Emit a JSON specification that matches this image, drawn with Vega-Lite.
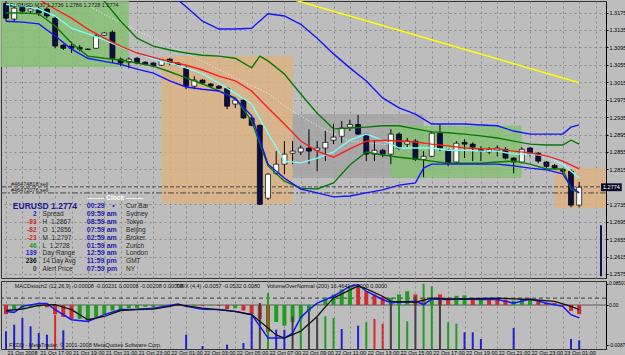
{
"$schema":"https://vega.github.io/schema/vega-lite/v6.json",
"padding":0,
"background":"#bdbdbd",
"spacing":1,
"config":{"view":{"stroke":"#333333","strokeWidth":1},"font":"Liberation Sans"},
"datasets":{
"cd":[
{"t":"2008-10-21T15:00Z","o":1.3196,"h":1.3201,"l":1.3155,"c":1.3162},
{"t":"2008-10-21T15:30Z","o":1.3160,"h":1.3190,"l":1.3155,"c":1.3185},
{"t":"2008-10-21T16:00Z","o":1.3190,"h":1.3196,"l":1.3174,"c":1.3178},
{"t":"2008-10-21T16:30Z","o":1.3178,"h":1.3190,"l":1.3174,"c":1.3183},
{"t":"2008-10-21T17:00Z","o":1.3183,"h":1.3188,"l":1.3167,"c":1.3174},
{"t":"2008-10-21T17:30Z","o":1.3183,"h":1.3187,"l":1.3162,"c":1.3167},
{"t":"2008-10-21T18:00Z","o":1.3162,"h":1.3167,"l":1.3093,"c":1.3098},
{"t":"2008-10-21T18:30Z","o":1.3100,"h":1.3102,"l":1.3089,"c":1.3093},
{"t":"2008-10-21T19:00Z","o":1.3098,"h":1.3108,"l":1.3082,"c":1.3093},
{"t":"2008-10-21T19:30Z","o":1.3095,"h":1.3100,"l":1.3086,"c":1.3091},
{"t":"2008-10-21T20:00Z","o":1.3091,"h":1.3093,"l":1.3089,"c":1.3090},
{"t":"2008-10-21T20:30Z","o":1.3093,"h":1.3125,"l":1.3091,"c":1.3121},
{"t":"2008-10-21T21:00Z","o":1.3123,"h":1.3130,"l":1.3121,"c":1.3128},
{"t":"2008-10-21T21:30Z","o":1.3130,"h":1.3134,"l":1.3059,"c":1.3070},
{"t":"2008-10-21T22:00Z","o":1.3068,"h":1.3072,"l":1.3052,"c":1.3059},
{"t":"2008-10-21T22:30Z","o":1.3061,"h":1.3072,"l":1.3047,"c":1.3068},
{"t":"2008-10-21T23:00Z","o":1.3070,"h":1.3072,"l":1.3056,"c":1.3059},
{"t":"2008-10-21T23:30Z","o":1.3061,"h":1.3063,"l":1.3054,"c":1.3056},
{"t":"2008-10-22T00:00Z","o":1.3059,"h":1.3061,"l":1.3050,"c":1.3052},
{"t":"2008-10-22T00:30Z","o":1.3054,"h":1.3068,"l":1.3052,"c":1.3066},
{"t":"2008-10-22T01:00Z","o":1.3068,"h":1.3070,"l":1.3054,"c":1.3059},
{"t":"2008-10-22T01:30Z","o":1.3059,"h":1.3061,"l":1.3052,"c":1.3054},
{"t":"2008-10-22T02:00Z","o":1.3047,"h":1.3052,"l":1.2999,"c":1.3006},
{"t":"2008-10-22T02:30Z","o":1.3006,"h":1.3029,"l":1.2999,"c":1.3020},
{"t":"2008-10-22T03:00Z","o":1.3020,"h":1.3022,"l":1.3011,"c":1.3013},
{"t":"2008-10-22T03:30Z","o":1.3011,"h":1.3013,"l":1.3004,"c":1.3006},
{"t":"2008-10-22T04:00Z","o":1.3006,"h":1.3008,"l":1.2999,"c":1.3001},
{"t":"2008-10-22T04:30Z","o":1.3001,"h":1.3004,"l":1.2953,"c":1.2960},
{"t":"2008-10-22T05:00Z","o":1.2965,"h":1.2978,"l":1.2956,"c":1.2974},
{"t":"2008-10-22T05:30Z","o":1.2974,"h":1.2976,"l":1.2931,"c":1.2933},
{"t":"2008-10-22T06:00Z","o":1.2933,"h":1.2935,"l":1.2914,"c":1.2916},
{"t":"2008-10-22T06:30Z","o":1.2916,"h":1.2918,"l":1.2733,"c":1.2735},
{"t":"2008-10-22T07:00Z","o":1.2749,"h":1.2806,"l":1.2745,"c":1.2804},
{"t":"2008-10-22T07:30Z","o":1.2806,"h":1.2857,"l":1.2802,"c":1.2827},
{"t":"2008-10-22T08:00Z","o":1.2827,"h":1.2880,"l":1.2804,"c":1.2850},
{"t":"2008-10-22T08:30Z","o":1.2852,"h":1.2880,"l":1.2827,"c":1.2857},
{"t":"2008-10-22T09:00Z","o":1.2855,"h":1.2870,"l":1.2848,"c":1.2864},
{"t":"2008-10-22T09:30Z","o":1.2864,"h":1.2907,"l":1.2827,"c":1.2857},
{"t":"2008-10-22T10:00Z","o":1.2859,"h":1.2880,"l":1.2811,"c":1.2864},
{"t":"2008-10-22T10:30Z","o":1.2864,"h":1.2903,"l":1.2834,"c":1.2877},
{"t":"2008-10-22T11:00Z","o":1.2882,"h":1.2920,"l":1.2873,"c":1.2889},
{"t":"2008-10-22T11:30Z","o":1.2891,"h":1.2926,"l":1.2875,"c":1.2910},
{"t":"2008-10-22T12:00Z","o":1.2912,"h":1.2929,"l":1.2903,"c":1.2918},
{"t":"2008-10-22T12:30Z","o":1.2918,"h":1.2940,"l":1.2894,"c":1.2896},
{"t":"2008-10-22T13:00Z","o":1.2896,"h":1.2898,"l":1.2834,"c":1.2850},
{"t":"2008-10-22T13:30Z","o":1.2850,"h":1.2880,"l":1.2834,"c":1.2859},
{"t":"2008-10-22T14:00Z","o":1.2859,"h":1.2862,"l":1.2843,"c":1.2850},
{"t":"2008-10-22T14:30Z","o":1.2850,"h":1.2907,"l":1.2827,"c":1.2896},
{"t":"2008-10-22T15:00Z","o":1.2896,"h":1.2900,"l":1.2860,"c":1.2864},
{"t":"2008-10-22T15:30Z","o":1.2873,"h":1.2887,"l":1.2866,"c":1.2880},
{"t":"2008-10-22T16:00Z","o":1.2880,"h":1.2884,"l":1.2834,"c":1.2838},
{"t":"2008-10-22T16:30Z","o":1.2838,"h":1.2857,"l":1.2797,"c":1.2845},
{"t":"2008-10-22T17:00Z","o":1.2845,"h":1.2903,"l":1.2843,"c":1.2898},
{"t":"2008-10-22T17:30Z","o":1.2898,"h":1.2918,"l":1.2857,"c":1.2864},
{"t":"2008-10-22T18:00Z","o":1.2859,"h":1.2862,"l":1.2822,"c":1.2829},
{"t":"2008-10-22T18:30Z","o":1.2832,"h":1.2880,"l":1.2829,"c":1.2875},
{"t":"2008-10-22T19:00Z","o":1.2877,"h":1.2884,"l":1.2841,"c":1.2873},
{"t":"2008-10-22T19:30Z","o":1.2873,"h":1.2877,"l":1.2834,"c":1.2866},
{"t":"2008-10-22T20:00Z","o":1.2861,"h":1.2868,"l":1.2834,"c":1.2857},
{"t":"2008-10-22T20:30Z","o":1.2855,"h":1.2866,"l":1.2850,"c":1.2861},
{"t":"2008-10-22T21:00Z","o":1.2859,"h":1.2870,"l":1.2845,"c":1.2864},
{"t":"2008-10-22T21:30Z","o":1.2861,"h":1.2866,"l":1.2838,"c":1.2841},
{"t":"2008-10-22T22:00Z","o":1.2841,"h":1.2843,"l":1.2806,"c":1.2832},
{"t":"2008-10-22T22:30Z","o":1.2832,"h":1.2866,"l":1.2829,"c":1.2861},
{"t":"2008-10-22T23:00Z","o":1.2864,"h":1.2866,"l":1.2845,"c":1.2850},
{"t":"2008-10-22T23:30Z","o":1.2852,"h":1.2855,"l":1.2829,"c":1.2834},
{"t":"2008-10-23T00:00Z","o":1.2832,"h":1.2834,"l":1.2818,"c":1.2822},
{"t":"2008-10-23T00:30Z","o":1.2824,"h":1.2827,"l":1.2815,"c":1.2818},
{"t":"2008-10-23T01:00Z","o":1.2815,"h":1.2818,"l":1.2806,"c":1.2811},
{"t":"2008-10-23T01:30Z","o":1.2811,"h":1.2815,"l":1.2728,"c":1.2733},
{"t":"2008-10-23T02:00Z","o":1.2733,"h":1.2786,"l":1.2728,"c":1.2774}
],
"ln":[
{"t":"2008-10-21T15:00Z","c":1.3194,"gl":1.3174,"bl":1.3155},
{"t":"2008-10-21T16:00Z","c":1.3190,"gl":1.3174,"bl":1.3153},
{"t":"2008-10-21T17:00Z","r":1.3205,"c":1.3183,"gl":1.3172,"bl":1.3149},
{"t":"2008-10-21T18:00Z","r":1.3183,"c":1.3167,"gl":1.3144,"bl":1.3121},
{"t":"2008-10-21T19:00Z","r":1.3162,"c":1.3139,"gl":1.3105,"bl":1.3091},
{"t":"2008-10-21T20:00Z","r":1.3137,"c":1.3126,"gu":1.3225,"gl":1.3075,"bl":1.3070},
{"t":"2008-10-21T21:00Z","r":1.3116,"c":1.3112,"gu":1.3201,"gl":1.3070,"bl":1.3063},
{"t":"2008-10-21T22:00Z","r":1.3098,"c":1.3096,"gu":1.3155,"gl":1.3066,"bl":1.3056},
{"t":"2008-10-21T23:00Z","r":1.3082,"c":1.3082,"gu":1.3116,"gl":1.3059,"bl":1.3045},
{"t":"2008-10-22T00:00Z","r":1.3072,"c":1.3068,"gu":1.3098,"gl":1.3052,"bl":1.3036},
{"t":"2008-10-22T01:00Z","r":1.3063,"c":1.3059,"gu":1.3089,"gl":1.3039,"bu":1.3220,"bl":1.3018},
{"t":"2008-10-22T02:00Z","r":1.3054,"c":1.3048,"gu":1.3082,"gl":1.3025,"bu":1.3188,"bl":1.3004},
{"t":"2008-10-22T03:00Z","r":1.3043,"c":1.3034,"gu":1.3077,"gl":1.3011,"bu":1.3155,"bl":1.2999},
{"t":"2008-10-22T04:00Z","r":1.3029,"c":1.3013,"gu":1.3075,"gl":1.2995,"bu":1.3137,"bl":1.2995},
{"t":"2008-10-22T05:00Z","r":1.3018,"c":1.2990,"gu":1.3070,"gl":1.2979,"bu":1.3137,"bl":1.2977},
{"t":"2008-10-22T06:00Z","r":1.2995,"c":1.2965,"gu":1.3048,"gl":1.2926,"bu":1.3139,"bl":1.2938},
{"t":"2008-10-22T06:30Z","gu":1.3075},
{"t":"2008-10-22T07:00Z","r":1.2956,"c":1.2898,"gu":1.3064,"gl":1.2823,"bu":1.3172,"bl":1.2827},
{"t":"2008-10-22T08:00Z","r":1.2919,"c":1.2834,"gu":1.3034,"gl":1.2788,"bu":1.3167,"bl":1.2795},
{"t":"2008-10-22T09:00Z","r":1.2880,"c":1.2830,"gu":1.2988,"gl":1.2772,"bu":1.3148,"bl":1.2770},
{"t":"2008-10-22T10:00Z","r":1.2857,"c":1.2841,"gu":1.2944,"gl":1.2770,"bu":1.3116,"bl":1.2761},
{"t":"2008-10-22T11:00Z","r":1.2843,"c":1.2855,"gu":1.2908,"gl":1.2784,"bu":1.3080,"bl":1.2752},
{"t":"2008-10-22T12:00Z","r":1.2862,"c":1.2882,"gu":1.2910,"gl":1.2825,"bu":1.3048,"bl":1.2754},
{"t":"2008-10-22T13:00Z","r":1.2880,"c":1.2896,"gu":1.2912,"gl":1.2855,"bu":1.3018,"bl":1.2761},
{"t":"2008-10-22T14:00Z","r":1.2882,"c":1.2882,"gu":1.2915,"gl":1.2848,"bu":1.2979,"bl":1.2768},
{"t":"2008-10-22T15:00Z","r":1.2880,"c":1.2864,"gu":1.2915,"gl":1.2843,"bu":1.2956,"bl":1.2779},
{"t":"2008-10-22T16:00Z","r":1.2878,"c":1.2864,"gu":1.2908,"gl":1.2839,"bu":1.2942,"bl":1.2784},
{"t":"2008-10-22T16:30Z","bl":1.2818},
{"t":"2008-10-22T17:00Z","r":1.2873,"c":1.2864,"gu":1.2901,"gl":1.2834,"bu":1.2919,"bl":1.2827},
{"t":"2008-10-22T18:00Z","r":1.2869,"c":1.2859,"gu":1.2899,"gl":1.2829,"bu":1.2919,"bl":1.2827},
{"t":"2008-10-22T19:00Z","r":1.2864,"c":1.2859,"gu":1.2896,"gl":1.2829,"bu":1.2919,"bl":1.2827},
{"t":"2008-10-22T20:00Z","r":1.2862,"c":1.2857,"gu":1.2892,"gl":1.2829,"bu":1.2917,"bl":1.2827},
{"t":"2008-10-22T21:00Z","r":1.2862,"c":1.2857,"gu":1.2887,"gl":1.2832,"bu":1.2915,"bl":1.2827},
{"t":"2008-10-22T22:00Z","r":1.2857,"c":1.2850,"gu":1.2880,"gl":1.2834,"bu":1.2903,"bl":1.2823},
{"t":"2008-10-22T23:00Z","r":1.2853,"c":1.2850,"gu":1.2873,"gl":1.2827,"bu":1.2896,"bl":1.2818},
{"t":"2008-10-23T00:00Z","r":1.2846,"c":1.2846,"gu":1.2871,"gl":1.2816,"bu":1.2896,"bl":1.2814},
{"t":"2008-10-23T01:00Z","r":1.2834,"c":1.2827,"gu":1.2871,"gl":1.2816,"bu":1.2896,"bl":1.2805},
{"t":"2008-10-23T01:30Z","gu":1.2882,"gl":1.2770,"bu":1.2912,"bl":1.2775},
{"t":"2008-10-23T02:00Z","r":1.2816,"c":1.2795,"gu":1.2873,"gl":1.2761,"bu":1.2917,"bl":1.2761}
],
"wl":[
{"t":"2008-10-21T20:00Z","p":1.3190},{"t":"2008-10-21T23:00Z","p":1.3133},{"t":"2008-10-22T02:00Z","p":1.3082},{"t":"2008-10-22T05:00Z","p":1.3025},{"t":"2008-10-22T07:00Z","p":1.2990},{"t":"2008-10-22T08:00Z","p":1.2960},{"t":"2008-10-22T09:00Z","p":1.2938},{"t":"2008-10-22T10:00Z","p":1.2915},{"t":"2008-10-22T12:00Z","p":1.2880},{"t":"2008-10-22T15:00Z","p":1.2869},{"t":"2008-10-22T18:00Z","p":1.2864},{"t":"2008-10-22T21:00Z","p":1.2859},{"t":"2008-10-23T00:00Z","p":1.2841},{"t":"2008-10-23T02:00Z","p":1.2811}
],
"yl":[{"t":"2008-10-22T08:30Z","p":1.3205},{"t":"2008-10-23T02:00Z","p":1.3014}],
"bx":[
{"t":"2008-10-21T14:00Z","t2":"2008-10-21T22:30Z","p":1.3210,"p2":1.3050,"k":"g"},
{"t":"2008-10-22T00:30Z","t2":"2008-10-22T08:30Z","p":1.3075,"p2":1.2736,"k":"t"},
{"t":"2008-10-22T08:30Z","t2":"2008-10-22T16:30Z","p":1.2942,"p2":1.2795,"k":"s"},
{"t":"2008-10-22T14:30Z","t2":"2008-10-22T22:30Z","p":1.2915,"p2":1.2795,"k":"g"},
{"t":"2008-10-23T00:30Z","t2":"2008-10-23T04:00Z","p":1.2818,"p2":1.2726,"k":"t"}
],
"hl":[{"t":"2008-10-23T03:20Z","t2":"2008-10-23T04:36Z","p":1.2783,"p2":1.2765,"s":"1.2774","pm":1.2774}],
"ax":[{"t":"2008-10-23T03:20Z","p":1.2687,"p2":1.2570}],
"nm":[
{"t":"2008-10-21T16:52Z","p":1.2712,"s":"2","k":"b"},
{"t":"2008-10-21T16:52Z","p":1.2694,"s":"-93","k":"r"},
{"t":"2008-10-21T16:52Z","p":1.2676,"s":"-82","k":"r"},
{"t":"2008-10-21T16:52Z","p":1.2658,"s":"-23","k":"r"},
{"t":"2008-10-21T16:52Z","p":1.2640,"s":"46","k":"g"},
{"t":"2008-10-21T16:52Z","p":1.2623,"s":"139","k":"b"},
{"t":"2008-10-21T16:52Z","p":1.2605,"s":"236","k":"k"},
{"t":"2008-10-21T16:52Z","p":1.2587,"s":"0","k":"y"}
],
"lb":[
{"t":"2008-10-21T17:14Z","p":1.2712,"s":"Spread"},
{"t":"2008-10-21T17:14Z","p":1.2694,"s":"H\u00a0\u00a01.2867"},
{"t":"2008-10-21T17:14Z","p":1.2676,"s":"O\u00a0\u00a01.2856"},
{"t":"2008-10-21T17:14Z","p":1.2658,"s":"M\u00a0\u00a01.2797"},
{"t":"2008-10-21T17:14Z","p":1.2640,"s":"L\u00a0\u00a01.2728"},
{"t":"2008-10-21T17:14Z","p":1.2623,"s":"Day Range"},
{"t":"2008-10-21T17:14Z","p":1.2605,"s":"14 Day Avg"},
{"t":"2008-10-21T17:14Z","p":1.2587,"s":"Alert Price"}
],
"tm":[
{"t":"2008-10-21T19:56Z","p":1.2730,"s":"00:29"},
{"t":"2008-10-21T21:29Z","p":1.2730,"s":"\u2022"},
{"t":"2008-10-21T19:56Z","p":1.2712,"s":"09:59 am"},
{"t":"2008-10-21T19:56Z","p":1.2694,"s":"08:59 am"},
{"t":"2008-10-21T19:56Z","p":1.2676,"s":"07:59 am"},
{"t":"2008-10-21T19:56Z","p":1.2658,"s":"02:59 am"},
{"t":"2008-10-21T19:56Z","p":1.2640,"s":"01:59 am"},
{"t":"2008-10-21T19:56Z","p":1.2623,"s":"12:59 am"},
{"t":"2008-10-21T19:56Z","p":1.2605,"s":"11:59 pm"},
{"t":"2008-10-21T19:56Z","p":1.2587,"s":"07:59 pm"}
],
"pl":[
{"t":"2008-10-21T22:20Z","p":1.2730,"s":"Cur Bar"},
{"t":"2008-10-21T22:20Z","p":1.2712,"s":"Sydney"},
{"t":"2008-10-21T22:20Z","p":1.2694,"s":"Tokyo"},
{"t":"2008-10-21T22:20Z","p":1.2676,"s":"Beijing"},
{"t":"2008-10-21T22:20Z","p":1.2658,"s":"Broker"},
{"t":"2008-10-21T22:20Z","p":1.2640,"s":"Zurich"},
{"t":"2008-10-21T22:20Z","p":1.2623,"s":"London"},
{"t":"2008-10-21T22:20Z","p":1.2605,"s":"GMT"},
{"t":"2008-10-21T22:20Z","p":1.2587,"s":"NY"}
],
"hi":[
{"t":"2008-10-21T15:00Z","v":-0.0020,"d":"r"},{"t":"2008-10-21T15:30Z","v":-0.0010,"d":"g"},{"t":"2008-10-21T16:00Z","v":-0.0009,"d":"g"},{"t":"2008-10-21T16:30Z","v":-0.0004,"d":"g"},{"t":"2008-10-21T17:00Z","v":-0.0004,"d":"g"},{"t":"2008-10-21T17:30Z","v":-0.0005,"d":"r"},{"t":"2008-10-21T18:00Z","v":-0.0020,"d":"r"},{"t":"2008-10-21T18:30Z","v":-0.0026,"d":"r"},{"t":"2008-10-21T19:00Z","v":-0.0030,"d":"r"},{"t":"2008-10-21T19:30Z","v":-0.0030,"d":"g"},{"t":"2008-10-21T20:00Z","v":-0.0034,"d":"g"},{"t":"2008-10-21T20:30Z","v":-0.0026,"d":"g"},{"t":"2008-10-21T21:00Z","v":-0.0020,"d":"g"},{"t":"2008-10-21T21:30Z","v":-0.0012,"d":"g"},{"t":"2008-10-21T22:00Z","v":-0.0010,"d":"g"},{"t":"2008-10-21T22:30Z","v":-0.0007,"d":"g"},{"t":"2008-10-21T23:00Z","v":-0.0007,"d":"g"},{"t":"2008-10-21T23:30Z","v":-0.0004,"d":"g"},
{"t":"2008-10-22T00:00Z","v":-0.0005,"d":"g"},{"t":"2008-10-22T00:30Z","v":-0.0003,"d":"g"},{"t":"2008-10-22T01:00Z","v":-0.0002,"d":"g"},{"t":"2008-10-22T01:30Z","v":-0.0002,"d":"r"},{"t":"2008-10-22T02:00Z","v":-0.0003,"d":"r"},{"t":"2008-10-22T02:30Z","v":-0.0002,"d":"g"},{"t":"2008-10-22T03:00Z","v":-0.0002,"d":"r"},{"t":"2008-10-22T03:30Z","v":-0.0001,"d":"g"},{"t":"2008-10-22T04:00Z","v":-0.0002,"d":"r"},{"t":"2008-10-22T04:30Z","v":-0.0009,"d":"r"},{"t":"2008-10-22T05:00Z","v":-0.0007,"d":"g"},{"t":"2008-10-22T05:30Z","v":-0.0012,"d":"r"},{"t":"2008-10-22T06:00Z","v":-0.0020,"d":"r"},{"t":"2008-10-22T06:30Z","v":-0.0030,"d":"r"},{"t":"2008-10-22T07:00Z","v":-0.0059,"d":"r"},{"t":"2008-10-22T07:30Z","v":-0.0037,"d":"g"},{"t":"2008-10-22T08:00Z","v":-0.0045,"d":"g"},{"t":"2008-10-22T08:30Z","v":-0.0037,"d":"g"},{"t":"2008-10-22T09:00Z","v":-0.0030,"d":"g"},{"t":"2008-10-22T09:30Z","v":-0.0014,"d":"g"},{"t":"2008-10-22T10:00Z","v":0.0002,"d":"g"},{"t":"2008-10-22T10:30Z","v":0.0016,"d":"g"},{"t":"2008-10-22T11:00Z","v":0.0023,"d":"g"},{"t":"2008-10-22T11:30Z","v":0.0034,"d":"g"},{"t":"2008-10-22T12:00Z","v":0.0041,"d":"g"},{"t":"2008-10-22T12:30Z","v":0.0038,"d":"r"},{"t":"2008-10-22T13:00Z","v":0.0030,"d":"r"},{"t":"2008-10-22T13:30Z","v":0.0023,"d":"r"},{"t":"2008-10-22T14:00Z","v":0.0018,"d":"r"},{"t":"2008-10-22T14:30Z","v":0.0016,"d":"g"},{"t":"2008-10-22T15:00Z","v":0.0023,"d":"g"},{"t":"2008-10-22T15:30Z","v":0.0030,"d":"g"},{"t":"2008-10-22T16:00Z","v":0.0023,"d":"r"},{"t":"2008-10-22T16:30Z","v":0.0016,"d":"r"},{"t":"2008-10-22T17:00Z","v":0.0012,"d":"g"},{"t":"2008-10-22T17:30Z","v":0.0023,"d":"r"},{"t":"2008-10-22T18:00Z","v":0.0016,"d":"r"},{"t":"2008-10-22T18:30Z","v":0.0020,"d":"g"},{"t":"2008-10-22T19:00Z","v":0.0021,"d":"g"},{"t":"2008-10-22T19:30Z","v":0.0016,"d":"r"},{"t":"2008-10-22T20:00Z","v":0.0012,"d":"g"},{"t":"2008-10-22T20:30Z","v":0.0012,"d":"r"},{"t":"2008-10-22T21:00Z","v":0.0012,"d":"r"},{"t":"2008-10-22T21:30Z","v":0.0012,"d":"r"},{"t":"2008-10-22T22:00Z","v":0.0009,"d":"g"},{"t":"2008-10-22T22:30Z","v":0.0012,"d":"g"},{"t":"2008-10-22T23:00Z","v":0.0011,"d":"g"},{"t":"2008-10-22T23:30Z","v":0.0007,"d":"r"},
{"t":"2008-10-23T00:00Z","v":0.0005,"d":"r"},{"t":"2008-10-23T00:30Z","v":0.0005,"d":"r"},{"t":"2008-10-23T01:00Z","v":-0.0002,"d":"r"},{"t":"2008-10-23T01:30Z","v":-0.0013,"d":"r"},{"t":"2008-10-23T02:00Z","v":-0.0020,"d":"r"}
],
"vo":[
{"t":"2008-10-21T15:00Z","vol":885,"k":"b"},{"t":"2008-10-21T15:30Z","vol":1215,"k":"l"},{"t":"2008-10-21T16:00Z","vol":1550,"k":"l"},{"t":"2008-10-21T16:30Z","vol":1135,"k":"b"},{"t":"2008-10-21T17:00Z","vol":800,"k":"b"},{"t":"2008-10-21T17:30Z","vol":715,"k":"b"},{"t":"2008-10-21T18:00Z","vol":1715,"k":"c"},{"t":"2008-10-21T18:30Z","vol":935,"k":"b"},
{"t":"2008-10-22T02:00Z","vol":715,"k":"b"},{"t":"2008-10-22T03:00Z","vol":150,"k":"b"},{"t":"2008-10-22T04:30Z","vol":215,"k":"b"},{"t":"2008-10-22T05:30Z","vol":300,"k":"b"},{"t":"2008-10-22T06:00Z","vol":1635,"k":"l"},{"t":"2008-10-22T06:30Z","vol":2300,"k":"y"},{"t":"2008-10-22T07:00Z","vol":2800,"k":"w"},{"t":"2008-10-22T07:30Z","vol":965,"k":"b"},{"t":"2008-10-22T08:00Z","vol":965,"k":"b"},{"t":"2008-10-22T08:30Z","vol":1635,"k":"y"},{"t":"2008-10-22T09:00Z","vol":1500,"k":"g"},{"t":"2008-10-22T09:30Z","vol":1885,"k":"y"},{"t":"2008-10-22T10:00Z","vol":1550,"k":"y"},{"t":"2008-10-22T10:30Z","vol":1635,"k":"g"},{"t":"2008-10-22T11:00Z","vol":1550,"k":"g"},{"t":"2008-10-22T11:30Z","vol":1000,"k":"b"},{"t":"2008-10-22T12:30Z","vol":1165,"k":"b"},{"t":"2008-10-22T13:00Z","vol":1335,"k":"g"},{"t":"2008-10-22T13:30Z","vol":1500,"k":"c"},{"t":"2008-10-22T14:00Z","vol":1265,"k":"c"},{"t":"2008-10-22T14:30Z","vol":2265,"k":"y"},{"t":"2008-10-22T15:00Z","vol":2335,"k":"w"},{"t":"2008-10-22T15:30Z","vol":1385,"k":"g"},{"t":"2008-10-22T16:00Z","vol":2635,"k":"y"},{"t":"2008-10-22T16:30Z","vol":3265,"k":"w"},{"t":"2008-10-22T17:00Z","vol":3135,"k":"w"},{"t":"2008-10-22T17:30Z","vol":2550,"k":"y"},{"t":"2008-10-22T18:00Z","vol":1335,"k":"g"},{"t":"2008-10-22T18:30Z","vol":1265,"k":"g"},{"t":"2008-10-22T19:00Z","vol":835,"k":"b"},{"t":"2008-10-22T19:30Z","vol":835,"k":"b"},{"t":"2008-10-22T20:00Z","vol":500,"k":"b"},{"t":"2008-10-22T22:00Z","vol":1050,"k":"b"},{"t":"2008-10-23T01:30Z","vol":500,"k":"b"},{"t":"2008-10-23T02:00Z","vol":435,"k":"b"}
],
"mb":[
{"t":"2008-10-21T15:00Z","m":-0.0014},{"t":"2008-10-21T15:30Z","m":-0.0016},{"t":"2008-10-21T16:00Z","m":-0.0003},{"t":"2008-10-21T17:00Z","m":0.0003},{"t":"2008-10-21T17:30Z","m":0.0003},{"t":"2008-10-21T18:00Z","m":-0.0010},{"t":"2008-10-21T19:00Z","m":-0.0032},{"t":"2008-10-21T20:00Z","m":-0.0036},{"t":"2008-10-21T21:00Z","m":-0.0021},{"t":"2008-10-21T22:00Z","m":-0.0010},{"t":"2008-10-21T23:00Z","m":-0.0009},{"t":"2008-10-22T00:00Z","m":-0.0007},{"t":"2008-10-22T01:00Z","m":-0.0001},{"t":"2008-10-22T01:30Z","m":0.0002},{"t":"2008-10-22T02:00Z","m":-0.0003},{"t":"2008-10-22T03:00Z","m":-0.0009},{"t":"2008-10-22T04:00Z","m":-0.0010},{"t":"2008-10-22T05:00Z","m":-0.0014},{"t":"2008-10-22T06:00Z","m":-0.0021},{"t":"2008-10-22T06:30Z","m":-0.0046},{"t":"2008-10-22T07:00Z","m":-0.0072},{"t":"2008-10-22T08:00Z","m":-0.0072},{"t":"2008-10-22T08:30Z","m":-0.0061},{"t":"2008-10-22T09:00Z","m":-0.0027},{"t":"2008-10-22T09:30Z","m":-0.0010},{"t":"2008-10-22T10:00Z","m":0.0004},{"t":"2008-10-22T11:00Z","m":0.0019},{"t":"2008-10-22T12:00Z","m":0.0041},{"t":"2008-10-22T12:30Z","m":0.0044},{"t":"2008-10-22T13:00Z","m":0.0030},{"t":"2008-10-22T14:00Z","m":0.0012},{"t":"2008-10-22T14:30Z","m":0.0005},{"t":"2008-10-22T15:00Z","m":0.0006},{"t":"2008-10-22T16:00Z","m":0.0008},{"t":"2008-10-22T16:30Z","m":0.0001},{"t":"2008-10-22T17:00Z","m":0.0013},{"t":"2008-10-22T18:00Z","m":0.0012},{"t":"2008-10-22T19:00Z","m":0.0013},{"t":"2008-10-22T20:00Z","m":0.0012},{"t":"2008-10-22T21:00Z","m":0.0012},{"t":"2008-10-22T22:00Z","m":0.0004},{"t":"2008-10-22T23:00Z","m":0.0013},{"t":"2008-10-23T00:00Z","m":0.0004},{"t":"2008-10-23T01:00Z","m":-0.0003},{"t":"2008-10-23T01:30Z","m":-0.0021},{"t":"2008-10-23T02:00Z","m":-0.0028}
],
"ms":[
{"t":"2008-10-21T15:00Z","m":-0.0012},{"t":"2008-10-21T16:00Z","m":-0.0009},{"t":"2008-10-21T17:00Z","m":-0.0001},{"t":"2008-10-21T18:00Z","m":0.0001},{"t":"2008-10-21T19:00Z","m":-0.0010},{"t":"2008-10-21T20:00Z","m":-0.0032},{"t":"2008-10-21T21:00Z","m":-0.0025},{"t":"2008-10-21T22:00Z","m":-0.0012},{"t":"2008-10-21T23:00Z","m":-0.0010},{"t":"2008-10-22T00:00Z","m":-0.0009},{"t":"2008-10-22T01:00Z","m":-0.0003},{"t":"2008-10-22T01:30Z","m":0.0001},{"t":"2008-10-22T03:00Z","m":-0.0007},{"t":"2008-10-22T05:00Z","m":-0.0014},{"t":"2008-10-22T06:00Z","m":-0.0021},{"t":"2008-10-22T07:00Z","m":-0.0050},{"t":"2008-10-22T07:30Z","m":-0.0065},{"t":"2008-10-22T08:00Z","m":-0.0072},{"t":"2008-10-22T09:00Z","m":-0.0057},{"t":"2008-10-22T10:00Z","m":-0.0025},{"t":"2008-10-22T10:30Z","m":-0.0004},{"t":"2008-10-22T11:00Z","m":0.0015},{"t":"2008-10-22T12:00Z","m":0.0033},{"t":"2008-10-22T12:30Z","m":0.0041},{"t":"2008-10-22T13:00Z","m":0.0035},{"t":"2008-10-22T14:00Z","m":0.0019},{"t":"2008-10-22T14:30Z","m":0.0008},{"t":"2008-10-22T16:00Z","m":0.0006},{"t":"2008-10-22T17:00Z","m":0.0015},{"t":"2008-10-22T18:00Z","m":0.0013},{"t":"2008-10-22T19:00Z","m":0.0013},{"t":"2008-10-22T21:00Z","m":0.0015},{"t":"2008-10-22T23:00Z","m":0.0012},{"t":"2008-10-23T00:30Z","m":0.0008},{"t":"2008-10-23T01:30Z","m":-0.0003},{"t":"2008-10-23T02:00Z","m":-0.0010}
],
"mt":[
{"t":"2008-10-21T15:32Z","v":0.0042,"s":"MACDstoch2  (12,26,9)  -0.00008 -0.00231 0.00008 -0.00208 0.00008"},
{"t":"2008-10-22T01:23Z","v":0.0042,"s":"TRIX  (4,4)  -0.0057 -0.0532 0.0080"},
{"t":"2008-10-22T06:55Z","v":0.0042,"s":"VolumeOverNormal  (200)  16.4641  0.0000  0.0000"},
{"t":"2008-10-21T15:11Z","v":-0.0086,"s":"FXDD - MetaTrader, \u00a9 2001-2008 MetaQuotes Software Corp."}
],
"tx":[
{"t":"2008-10-21T15:14Z","p":1.3192,"s":"EURUSD,M30  1.2736 1.2786 1.2728 1.2774"},
{"t":"2008-10-21T15:18Z","p":1.2782,"s":"#46474818 sell"},
{"t":"2008-10-21T15:18Z","p":1.2768,"s":"#46472076 sell"}
],
"ck":[{"t":"2008-10-21T21:40Z","p":1.2749,"s":"-------- Clock --------"}],
"ti":[{"t":"2008-10-21T15:25Z","p":1.2730,"s":"EURUSD  1.2774"}],
"ol":[{"p":1.2775}],
"od":[{"p":1.2761}],
"lv":[{"v":0.0015}],
"zr":[{"v":0}]
},
"vconcat":[
{
"width":605,"height":277,
"encoding":{
 "x":{"field":"t","type":"temporal","title":null,"scale":{"type":"utc","domain":["2008-10-21T15:00Z","2008-10-23T03:20Z"]},
  "axis":{"title":null,"orient":"bottom","labels":false,"ticks":false,"domain":false,"grid":true,"gridColor":"#8a8a8a","gridDash":[2,3],"tickCount":36}},
 "y":{"field":"p","type":"quantitative","title":null,"scale":{"domain":[1.25658,1.32014],"zero":false,"nice":false},
  "axis":{"title":null,"orient":"right","values":[1.3175,1.3135,1.3095,1.3055,1.3015,1.2975,1.2935,1.2895,1.2855,1.2815,1.2735,1.2695,1.2655,1.2615,1.2575],"format":".4f","labelFontSize":5.5,"labelColor":"#000000","tickSize":2,"tickColor":"#000000","domainColor":"#000000","grid":true,"gridColor":"#8a8a8a","gridDash":[2,3],"labelPadding":1}}
},
"layer":[
{"data":{"name":"bx"},"mark":{"type":"rect","clip":true,"opacity":0.8},
 "encoding":{"x2":{"field":"t2"},"y2":{"field":"p2"},
  "fill":{"field":"k","type":"nominal","scale":{"domain":["g","t","s"],"range":["#84c071","#dfb280","#a3a3a3"]},"legend":null}}},
{"data":{"name":"ol"},"mark":{"type":"rule","color":"#4a4a4a","strokeDash":[4,2],"strokeWidth":1},
 "encoding":{"x":null,"y":{"field":"p","type":"quantitative"}}},
{"data":{"name":"od"},"mark":{"type":"rule","color":"#4a4a4a","strokeDash":[6,2,2,2],"strokeWidth":1},
 "encoding":{"x":null,"y":{"field":"p","type":"quantitative"}}},
{"data":{"name":"wl"},"mark":{"type":"line","clip":true,"color":"#ececec","strokeDash":[1,2],"strokeWidth":1},"encoding":{}},
{"data":{"name":"yl"},"mark":{"type":"line","clip":true,"color":"#ffff00","strokeWidth":1.5},"encoding":{}},
{"data":{"name":"cd"},"mark":{"type":"rule","clip":true,"color":"#000000","strokeWidth":1},
 "encoding":{"y":{"field":"l","type":"quantitative"},"y2":{"field":"h"}}},
{"data":{"name":"cd"},"mark":{"type":"bar","clip":true,"size":5,"stroke":"#000000","strokeWidth":0.7},
 "encoding":{"y":{"field":"o","type":"quantitative"},"y2":{"field":"c"},
  "fill":{"condition":{"test":"datum.c > datum.o","value":"#ffffff"},"value":"#0d0d45"}}},
{"data":{"name":"ln"},"transform":[{"fold":["r","c","gu","gl","bu","bl"],"as":["s","p"]},{"filter":"isValid(datum.p)"}],
 "mark":{"type":"line","clip":true,"strokeWidth":1.4},
 "encoding":{"stroke":{"field":"s","type":"nominal","scale":{"domain":["r","c","gu","gl","bu","bl"],"range":["#ff1e1e","#7ffcfc","#057a05","#057a05","#1414ff","#1414ff"]},"legend":null}}},
{"data":{"name":"tx"},"mark":{"type":"text","align":"left","baseline":"middle","fontSize":5.5,"color":"#202020"},
 "encoding":{"text":{"field":"s"}}},
{"data":{"name":"ck"},"mark":{"type":"text","align":"center","baseline":"middle","fontSize":6.5,"fontWeight":"bold","color":"#ffffff"},
 "encoding":{"text":{"field":"s"}}},
{"data":{"name":"ti"},"mark":{"type":"text","align":"left","baseline":"middle","fontSize":8.5,"fontWeight":"bold","color":"#1a1a9a"},
 "encoding":{"text":{"field":"s"}}},
{"data":{"name":"nm"},"mark":{"type":"text","align":"right","baseline":"middle","fontSize":6.5,"fontWeight":"bold"},
 "encoding":{"text":{"field":"s"},
  "color":{"field":"k","type":"nominal","scale":{"domain":["b","r","g","k","y"],"range":["#2020d0","#d42a2a","#1e9e1e","#101010","#404040"]},"legend":null}}},
{"data":{"name":"lb"},"mark":{"type":"text","align":"left","baseline":"middle","fontSize":6.5,"color":"#262626"},
 "encoding":{"text":{"field":"s"}}},
{"data":{"name":"tm"},"mark":{"type":"text","align":"left","baseline":"middle","fontSize":7,"fontWeight":"bold","color":"#2222b0"},
 "encoding":{"text":{"field":"s"}}},
{"data":{"name":"pl"},"mark":{"type":"text","align":"left","baseline":"middle","fontSize":6.5,"color":"#262626"},
 "encoding":{"text":{"field":"s"}}},
{"data":{"name":"hl"},"mark":{"type":"rect","clip":false,"color":"#0a0a28"},
 "encoding":{"x2":{"field":"t2"},"y2":{"field":"p2"}}},
{"data":{"name":"hl"},"mark":{"type":"text","clip":false,"align":"left","baseline":"middle","dx":2,"fontSize":5.5,"color":"#ffffff"},
 "encoding":{"y":{"field":"pm","type":"quantitative"},"text":{"field":"s"}}},
{"data":{"name":"ax"},"mark":{"type":"rule","clip":false,"color":"#10105a","strokeWidth":2},
 "encoding":{"y2":{"field":"p2"}}}
]
},
{
"width":605,"height":68,
"encoding":{
 "x":{"field":"t","type":"temporal","title":null,"scale":{"type":"utc","domain":["2008-10-21T15:00Z","2008-10-23T03:20Z"]},
  "axis":{"title":null,"orient":"bottom","grid":true,"gridColor":"#8a8a8a","gridDash":[2,3],"ticks":false,"domain":false,"tickCount":36,
   "labelExpr":"(utchours(datum.value) % 2 == 1 && !(utcdate(datum.value) == 23 && utchours(datum.value) >= 3)) ? ((utcdate(datum.value) == 21 && utchours(datum.value) == 15) ? '21 Oct 2008' : utcFormat(datum.value, '%d %b %H:%M')) : ''",
   "labelFontSize":5.5,"labelAlign":"left","labelBaseline":"top","labelPadding":1,"labelOffset":1,"labelOverlap":false,"labelFlush":false,"labelColor":"#000000"}}
},
"resolve":{"scale":{"y":"independent"}},
"layer":[
{"data":{"name":"lv"},"mark":{"type":"rule","color":"#3c3c3c","strokeDash":[4,3],"strokeWidth":1},
 "encoding":{"x":null,"y":{"field":"v","type":"quantitative","title":null,"axis":null,"scale":{"domain":[-0.00957,0.00522],"zero":false,"nice":false}}}},
{"data":{"name":"zr"},"mark":{"type":"rule","color":"#5a5a5a","strokeWidth":1},
 "encoding":{"x":null,"y":{"field":"v","type":"quantitative","title":null,"axis":null,"scale":{"domain":[-0.00957,0.00522],"zero":false,"nice":false}}}},
{"data":{"name":"hi"},"mark":{"type":"bar","clip":true,"size":4},
 "encoding":{
  "y":{"field":"v","type":"quantitative","title":null,"scale":{"domain":[-0.00957,0.00522],"zero":false,"nice":false},
   "axis":{"title":null,"orient":"right","values":[0.0046,0,-0.0087],"labelExpr":"datum.value > 0.001 ? '0.08501' : (datum.value < -0.001 ? '-0.0087' : '0.00')","labelFontSize":4.8,"labelColor":"#000000","tickSize":2,"tickColor":"#000000","domainColor":"#000000","grid":false,"labelPadding":0.5}},
  "color":{"field":"d","type":"nominal","scale":{"domain":["g","r"],"range":["#0f900f","#ff2020"]},"legend":null}}},
{"data":{"name":"vo"},"mark":{"type":"bar","clip":true,"size":2},
 "encoding":{
  "y":{"field":"vol","type":"quantitative","title":null,"axis":null,"scale":{"domain":[0,3400],"nice":false}},
  "color":{"field":"k","type":"nominal","scale":{"domain":["b","g","l","c","y","w"],"range":["#1e1e8c","#1fa01f","#40f040","#70e8e8","#f0f000","#ffffff"]},"legend":null}}},
{"data":{"name":"mb"},"mark":{"type":"line","clip":true,"color":"#1515ff","strokeWidth":1.5},
 "encoding":{"y":{"field":"m","type":"quantitative","title":null,"axis":null,"scale":{"domain":[-0.00957,0.00522],"zero":false,"nice":false}}}},
{"data":{"name":"ms"},"mark":{"type":"line","clip":true,"color":"#111111","strokeWidth":1.3},
 "encoding":{"y":{"field":"m","type":"quantitative","title":null,"axis":null,"scale":{"domain":[-0.00957,0.00522],"zero":false,"nice":false}}}},
{"data":{"name":"mt"},"mark":{"type":"text","align":"left","baseline":"middle","fontSize":5.5,"color":"#151515"},
 "encoding":{"y":{"field":"v","type":"quantitative","title":null,"axis":null,"scale":{"domain":[-0.00957,0.00522],"zero":false,"nice":false}},"text":{"field":"s"}}}
]
}
]
}
